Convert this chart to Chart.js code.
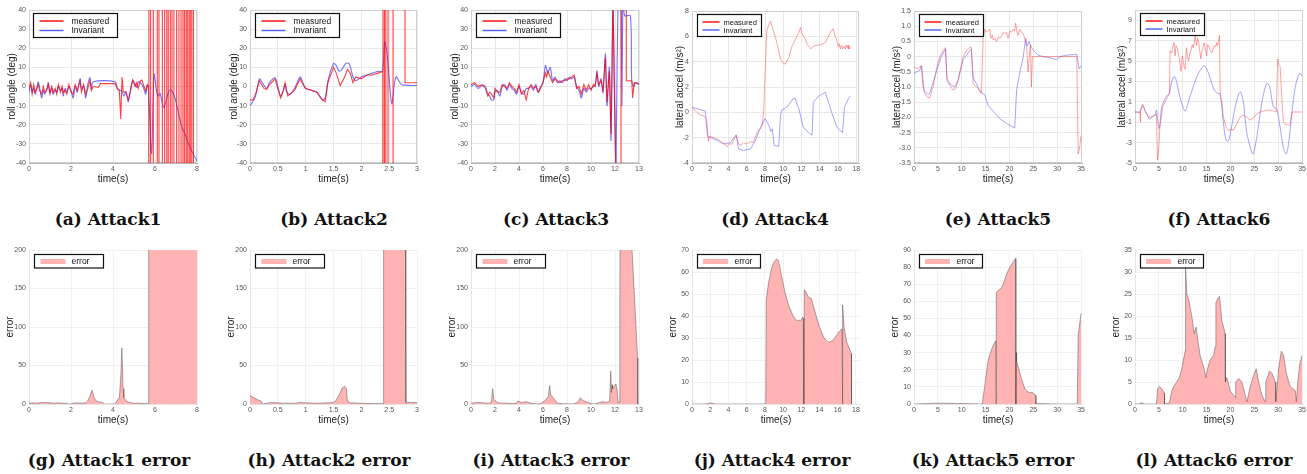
<!DOCTYPE html>
<html><head><meta charset="utf-8">
<script src="https://cdn.jsdelivr.net/npm/chart.js@4.4.1/dist/chart.umd.min.js"></script>
<style>
body{margin:0;background:#fff;width:1307px;height:474px;overflow:hidden;position:relative;font-family:"Liberation Sans",Arial,sans-serif}
canvas{position:absolute}
.cap{position:absolute;font-family:"DejaVu Serif",serif;font-weight:bold;font-size:17px;color:#111;white-space:nowrap;transform:translateX(-50%);line-height:1}
</style></head><body>
<script>
// ---------------- DATA ----------------
// (a) Attack1 roll angle
const a_measT = [0,0.08,0.15,0.22,0.3,0.38,0.44,0.5,0.6,0.68,0.75,0.85,0.92,1.0,1.08,1.15,1.25,1.32,1.4,1.5,1.58,1.63,1.72,1.8,1.9,2.0,2.1,2.2,2.3,2.43,2.5,2.6,2.7,2.8,2.9,2.97,3.06,3.3,3.4,4.1,4.2,4.3,4.37,4.43,4.49,4.62,4.73,4.84,4.94,5.05,5.13,5.2,5.3,5.37,5.48,5.56,5.63,5.7,5.705,5.71,5.79,5.79,5.92,5.92,6.11,6.11,6.19,6.19,6.35,6.35,6.46,6.46,6.56,6.56,6.63,6.63,6.73,6.73,6.81,6.81,6.9,6.9,7.03,7.03,7.14,7.14,7.24,7.24,7.33,7.33,7.4,7.4,7.48,7.48,7.54,7.54,7.62,7.62,7.68,7.68,7.75,7.75,7.83,7.83,8.0];
const a_measV = [-1,2,-4,1,-3,-1,1,-2,-4,0,-3,-2,1,-4,0,-3,-1,-4,1,-3,0,-3,-2,-4,1,-3,-4,1,-2,3,-3,1,-4,-1,3,-2,0,-0.5,1.5,1.5,-1,-2,-17,5,-2.5,-3.5,-7,-2,3.5,0,2,-1,3,3.4,0,-2.5,1,-0.5,-300,300,300,-300,-300,300,300,-300,-300,300,300,-300,-300,300,300,-300,-300,300,300,-300,-300,300,300,-300,-300,300,300,-300,-300,300,300,-300,-300,300,300,-300,-300,300,300,-300,-300,300,300,-300,-300,300,300];
const a_invT = [0,0.08,0.15,0.22,0.3,0.38,0.44,0.5,0.6,0.68,0.75,0.85,0.92,1.0,1.08,1.15,1.25,1.32,1.4,1.5,1.58,1.63,1.72,1.8,1.9,2.0,2.1,2.2,2.3,2.43,2.5,2.6,2.7,2.8,2.9,2.97,3.06,4.1,4.2,4.3,4.41,4.52,4.62,4.73,4.84,4.94,5.05,5.13,5.2,5.37,5.48,5.56,5.63,5.68,5.84,5.95,6.08,6.16,6.24,6.35,6.43,6.56,6.68,6.79,6.95,7.1,7.27,7.43,7.6,7.76,8.0];
const a_invV = [-3,1,-3,-1,-4,0,2.5,0,-6,-2,-4,-1,2,-3,-1,-4,-2,-3,0,-2,-1,-5,-1,-3,0,-2,-6,0,-3,4,-1,0,-6,1,4.6,-1,2.5,2.5,-1,-2,-2,-5,-2.5,-8,-1,3,1.5,-0.5,2.5,1,-1.5,-4,0.5,-0.5,-35,6.5,-2.7,-5,-3.5,-9,-11,-6,-2,-2,-6,-13,-21,-25,-30,-34,-39];
// (b) Attack2 roll angle
const b_measT = [0,0.05,0.1,0.17,0.25,0.3,0.35,0.45,0.55,0.6,0.63,0.68,0.72,0.8,0.9,0.95,1.0,1.1,1.2,1.3,1.35,1.4,1.5,1.55,1.62,1.7,1.75,1.8,1.85,1.9,2.0,2.1,2.2,2.3,2.385,2.387,2.39,2.415,2.415,2.44,2.44,2.48,2.48,2.57,2.57,2.785,2.785,3.0];
const b_measV = [-7,-7,-4,3,-1,-1.5,1,4,-6,-2,2,-5,-4,-2,4,1,-1,-2,-3,-7,-8,2,10,7,0.5,5,9,7,2,5,4,6,6,7,8,-300,300,300,-300,-300,300,300,-300,-300,300,300,2,2];
const b_invT = [0,0.05,0.1,0.17,0.22,0.3,0.35,0.45,0.5,0.55,0.6,0.63,0.66,0.72,0.8,0.9,0.95,1.0,1.1,1.2,1.3,1.35,1.4,1.5,1.55,1.6,1.65,1.72,1.78,1.85,1.9,2.0,2.1,2.2,2.3,2.38,2.42,2.47,2.52,2.55,2.62,2.72,2.8,2.9,3.0];
const b_invV = [-10,-8,-5,4,2,-1,2,4.5,0,-5,-2,1,-3,-4,-1,5,2,-1,-2,-3,-7,-6,3,12,11,8,9,12,12,5,3,5,6,7,8,8,23.5,15,-3,-9,5,1,0.7,0.5,0.5];
// (c) Attack3 roll angle
const c_measT = [0,0.3,0.6,0.9,1.2,1.4,1.55,1.7,1.9,2.0,2.2,2.4,2.6,2.8,3.0,3.2,3.4,3.6,3.8,4.0,4.2,4.4,4.6,4.8,5.0,5.2,5.4,5.6,5.8,6.0,6.2,6.3,6.4,6.6,6.8,7.0,7.2,7.4,7.6,7.8,8.0,8.2,8.4,8.6,8.8,9.0,9.2,9.4,9.6,9.8,10.0,10.2,10.35,10.5,10.64,10.83,11.0,11.2,11.33,11.53,11.67,11.83,11.94,12.08,12.1,12.5,12.5,12.94,12.94,13.4,13.47,13.6,14.0];
const c_measV = [1,2,0,1,-1,-5,-3,-4,-6,-1,-3,-3,1,0,-1,2,0,-1,-3,1,-4,-2,-7,-1,1,-1,0,-3,-1,2,7,5,8,5,2,4,3,2,3,3,4,4,5,6,-1,0,-4,1,-2,1,-2,1,0,7,1,3,-2,15,-8,8,-25,45,5,-45,-300,-300,300,300,3,3,-6,2,1.5];
const c_invT = [0,0.3,0.6,0.9,1.2,1.4,1.55,1.7,1.9,2.0,2.2,2.4,2.6,2.8,3.0,3.2,3.4,3.6,3.8,4.0,4.2,4.4,4.6,4.8,5.0,5.2,5.4,5.6,5.8,6.0,6.2,6.3,6.4,6.6,6.8,7.0,7.2,7.4,7.6,7.8,8.0,8.2,8.4,8.6,8.8,9.0,9.2,9.4,9.6,9.8,10.0,10.2,10.35,10.5,10.64,10.83,11.0,11.2,11.33,11.53,11.67,11.83,11.94,12.08,12.25,12.4,12.5,12.58,12.65,12.72,12.8,13.28,13.39,13.56,13.7,14.0];
const c_invV = [0,1,-1,0.5,0,-4,-5,-7,-7,-3,-2,-5,0,1,-2,1,-1,-2,-4,0,-3,-4,-1,-1,0,-2,1,-3,0,2,11,9,7,10,3,5,2,3,2,4,3,5,4,5,0,-2,-6,-1,-3,-1,-1,0,1,8,0,4,-3,17,-10,10,-28,45,0,-45,45,45,45,-10,45,45,37,37,3,0,2,1];
// (d) Attack4 lateral accel
const d_measT = [0,0.55,0.9,1.3,1.6,1.8,1.9,2.0,2.4,2.7,3.0,3.3,3.6,3.8,4.1,4.4,4.7,4.85,5.1,5.4,5.65,6.0,6.4,6.7,6.9,7.2,7.5,7.7,7.85,8.0,8.2,8.6,8.9,9.3,9.7,10.0,10.2,10.6,10.95,11.2,11.5,11.7,11.9,12.05,12.4,12.6,12.8,13.0,13.1,13.3,13.6,14.05,14.3,14.6,14.9,15.15,15.45,15.7,15.9,16.05,16.15,16.25,16.4,16.5,16.65,16.8,16.9,17.0,17.1,17.2,17.35];
const d_measV = [0.4,0,-0.2,-0.3,-0.5,-2.3,-1.9,-1.9,-2.0,-2.1,-2.2,-2.4,-2.5,-2.7,-2.5,-2.5,-2.0,-1.8,-2.5,-2.6,-2.4,-2.5,-2.3,-2.4,-2.0,-1.5,-1.3,-1.0,0,3,6.5,7.2,6.5,5.5,4.2,3.9,3.8,4.3,5.2,5.6,6.0,6.3,6.7,6.2,5.8,5.4,5.2,5.0,5.1,5.2,5.3,5.3,5.4,5.5,5.9,6.3,6.6,6.0,5.6,5.2,5.4,5.0,5.3,5.0,5.2,5.0,5.3,5.1,5.3,5.0,5.1];
const d_invT = [0,1.45,1.7,2.0,2.7,3.5,4.2,4.7,4.85,5.1,5.65,6.4,6.9,7.5,8.0,8.4,8.65,8.8,8.9,9.0,9.5,9.7,9.85,10.4,11.1,11.3,11.7,12.2,12.8,13.15,13.3,13.9,14.4,14.6,15.3,15.9,16.5,16.7,17.15,17.35];
const d_invV = [0.4,0.1,-1.9,-2.0,-2.2,-2.5,-2.4,-1.9,-1.8,-2.9,-3.0,-2.9,-2.3,-1.2,-0.5,-1.0,-1.5,-1.3,-1.9,-2.6,-2.7,-0.2,0.2,0.4,1.1,1.1,0.3,-1.2,-1.6,-1.8,0.8,1.3,1.5,1.6,0,-1.2,-1.6,0.4,1.1,1.3];
// (e) Attack5 lateral accel
const e_measT = [0,0.85,1.5,1.9,2.2,2.9,3.3,4.0,4.7,5.4,6.1,6.6,6.9,7.5,8.2,8.7,9.2,10.3,11,11.7,12,12.4,13.1,13.8,14.1,14.5,14.8,15.2,15.5,15.9,16.1,16.4,16.6,17.0,17.3,17.7,18,18.4,18.7,19.1,19.4,19.7,20.1,20.4,20.8,21.1,21.3,21.6,21.8,22.2,22.5,22.9,23.2,23.6,23.9,24.1,24.4,24.6,24.8,34.1,34.4,34.7,35];
const e_measV = [-0.35,-0.4,-0.3,-1.0,-1.2,-1.35,-1.35,-1.0,-0.4,0,0.2,0.3,-0.8,-0.95,-1.1,-1.05,-0.8,0,0.2,0.3,0.3,-0.9,-1.0,-1.1,-1.2,0.6,0.9,0.8,0.85,0.9,0.6,0.7,0.55,0.6,0.5,0.65,0.6,0.7,0.8,0.75,0.8,0.6,0.85,0.8,0.9,0.85,1.1,0.8,0.7,0.9,0.8,0.75,0.6,0.3,-0.5,-0.1,0.4,-1.0,0,0,-3.2,-3.0,-2.6];
const e_invT = [0,1.2,1.6,2.1,2.9,3.3,4.7,5.7,6.6,6.9,7.5,8.5,9.2,10.3,11.7,12,12.4,13.1,13.8,14.8,15.5,16.6,18,19.4,21.1,21.5,22.2,22.9,23.4,23.7,24.1,24.6,25.3,26,27.1,28.8,29.9,30.6,32,34.1,34.6,35];
const e_invV = [-0.55,-0.45,-0.3,-1.1,-1.25,-1.2,-0.5,0,0.25,-0.7,-0.9,-1.0,-0.8,-0.1,0.2,0.25,-0.7,-0.9,-1.15,-1.25,-1.6,-1.8,-2.05,-2.2,-2.35,-1.1,-0.5,0,0.6,0.35,0.5,0.3,0.15,0.05,0,-0.05,-0.1,0,0.05,0.07,-0.4,-0.3];
// (f) Attack6 lateral accel
const f_measT = [0,1.05,1.1,1.2,1.4,1.6,2.1,2.8,3.5,4.2,4.5,4.7,5.0,5.2,5.8,6.3,6.85,7.2,7.35,7.7,7.9,8.2,8.4,8.6,8.9,9.1,9.3,9.65,9.9,10.1,10.3,10.5,10.8,11.0,11.2,11.5,11.7,12.0,12.2,12.4,12.6,12.9,13.1,13.3,13.5,13.8,14.0,14.2,14.5,14.7,15.0,15.2,15.4,15.8,16.1,16.4,16.6,16.9,17.1,17.3,17.5,17.7,17.85,18.2,18.5,19.1,19.6,20.3,20.6,21.3,22,22.7,23.4,24.1,24.8,25.5,26.2,26.9,28,29,29.6,29.9,30.1,30.4,30.8,31.1,31.5,32.2,32.5,32.9,33.2,35];
const f_measV = [0,0,-1,0.2,0.5,0.8,0.2,-0.5,-0.5,-0.3,-0.2,-4.7,-3.5,-1.5,0.5,1.0,1.5,1.8,6,5.8,6.4,6.8,5.5,6.5,6.2,5.6,5.2,4.0,5.5,5.0,4.4,4.2,6.3,5.4,5.0,5.8,6.0,6.6,6.3,6.8,7.5,6.5,7.2,7.0,6.2,5.2,6.0,6.2,6.8,6.3,5.5,6.6,6.5,6.0,5.8,6.2,6.5,6.4,6.8,6.5,7.0,7.5,1.5,1.0,-0.5,-1.5,-1.8,-1.7,-1.8,-1.2,-0.5,-0.3,-0.5,-0.8,-0.6,-0.2,0,0.1,0.2,0.1,0,5.2,4.6,4.5,1,-1.0,-1.2,-1.3,-1.2,0,0,0];
const f_invT = [0,1.05,1.6,2.1,2.8,3.1,3.7,4.2,4.5,4.75,5.1,5.6,6.3,6.85,7.2,7.7,8.25,8.7,9.4,10.1,10.5,11.2,12.2,13.3,14.3,14.7,15.4,16.1,16.8,17.5,17.85,18.2,18.5,19.1,19.6,20.1,21,22,22.7,23.4,24.5,24.8,25.5,26.6,27.6,28.2,29,29.7,30.4,31.1,31.7,32.2,32.9,33.6,34.5,35];
const f_invV = [0,0,0.6,0.1,-0.5,-0.7,-0.4,-0.3,0.2,-0.8,-1.6,0.5,1.3,1.7,1.8,3.0,3.5,3.0,1.5,0.4,0.1,1.0,2.5,3.8,4.5,4.5,3.8,2.8,2.0,1.8,1.8,0.5,-1.0,-2.8,-2.8,-1.8,0.5,2.0,1.0,-2.0,-4.0,-4.1,-2.5,1.0,2.8,2.5,0.5,0.3,-1.5,-3.5,-4.1,-3.0,0,2.5,3.8,3.5];
// (g)-(l) errors
const g_t = [0,0.2,0.4,0.6,0.8,1.0,1.2,1.4,1.6,1.8,1.9,2.0,2.1,2.3,2.5,2.7,2.8,2.9,3.0,3.05,3.1,3.2,3.3,3.5,3.6,4.1,4.2,4.3,4.38,4.42,4.45,4.48,4.52,4.6,4.7,4.8,5.0,5.3,5.5,5.69,5.7,8.0];
const g_v = [1,1.5,1,2,2,1.5,1,1.5,1,1,0,0,1,1.5,1,1.5,4,10,18,14,8,4,3,2,0,0,5,7,40,73,50,20,8,5,3,2,1,1,0.5,0.5,300,300];
const h_t = [0,0.05,0.1,0.15,0.2,0.22,0.3,0.4,0.5,0.6,0.8,0.9,1.0,1.2,1.4,1.5,1.55,1.6,1.65,1.7,1.73,1.75,1.8,2.0,2.2,2.39,2.4,2.79,2.8,3.0];
const h_v = [11,9,7,5,4,0,1,2,1.5,1,1,2,1.5,1,1.5,2,5,12,20,23,20,4,1.5,1,0.5,0.5,300,300,2,2];
const i_t = [0,0.5,1.0,1.5,1.7,1.8,1.9,2.2,2.5,3.0,3.5,3.8,3.9,4.2,4.6,4.8,5.0,5.5,5.8,6.2,6.45,6.55,6.65,7.0,7.2,7.6,8.5,8.9,9.1,9.4,9.8,10.0,10.3,10.7,11.0,11.3,11.55,11.65,11.7,11.75,11.8,11.9,12.08,12.2,12.25,12.35,12.4,12.45,13.35,13.42,13.88,13.9,14.0];
const i_v = [1,2,1.5,1,2,20,6,2,1,1,0.5,1,4,2,3,2,1,0,0.5,5,10,24,12,5,1,0.5,0,2,8,4,2,0.5,0,2,3,2,4,43,15,25,20,22,26,15,2,2,135,300,300,200,60,0,0];
const j_t = [0,1.5,1.8,2.0,2.2,2.5,4,6,8.0,8.1,8.15,8.4,8.75,9.0,9.3,9.5,9.85,10.2,10.6,11.1,11.5,11.7,11.95,12.15,12.22,12.28,12.33,12.5,12.8,13.1,13.5,14.0,14.5,15.0,15.5,16.0,16.4,16.48,16.52,16.56,16.7,17.0,17.3,17.5,17.52];
const j_v = [0,0,0.3,0.5,0.3,0,0,0,0,0.5,47,55,62,64.5,66,65,58,51,45,40,38,38,38,39.5,39,0,52,51,48.5,48,42,35,30,28,29,32,34,34,0,45,35,28,25,23,0];
const k_t = [0,3,5,10,14.2,14.3,14.8,15.5,16.0,16.7,17.15,17.2,17.25,17.5,18.3,18.7,19.4,20.1,20.8,21.3,21.35,21.4,21.5,21.8,22.5,23.2,23.9,25.0,25.5,25.55,26,30,34.2,34.4,35];
const k_v = [0,0.3,0.5,0.3,0,0,10,25,30,35,37,0,65,66,68,70,76,80,83,85,0,30,25,22,15,9,7,6.5,5,0,0.3,0,0,40,53];
const l_t = [0,1.0,1.2,1.5,2,4.5,4.55,4.75,5.1,5.6,6.15,6.2,7.2,7.35,7.7,8.4,8.75,9.3,9.8,10.15,10.5,10.6,10.85,11.2,11.9,12.4,12.8,13.1,13.65,14.5,14.85,15.2,15.75,16.45,16.8,16.95,17.35,17.7,18.2,18.9,18.95,19.25,19.95,20.65,21.0,21.1,21.7,22.4,23.1,23.45,24.15,24.85,25.4,25.9,26.6,27.3,27.4,28.2,28.7,29.4,29.5,30.1,30.65,31.15,31.7,32.5,33.6,33.8,34.1,34.5,35];
const l_v = [0,0,0.3,0.2,0,0,0,3.5,4,3.5,2.5,0,0.2,1,3,4.5,5,6,8,10,12,31,25,24,20,16,17.5,15,11,8,6,8,10,11,13,23,24,24.5,19,16,5,6,3,2,1.5,5,5.8,5,2,0.5,4,6.5,8,5,2,0.5,5,7.5,7,5,0.5,8,12,11,7,4,3,0.5,5,9,11];

// ticks
const rollTicks = [-40,-30,-20,-10,0,10,20,30,40];
const a_xTicks = [0,2,4,6,8];
const b_xTicks = [0,0.5,1,1.5,2,2.5,3];
const c_xTicks = [0,2,4,6,8,10,12,14];
const c_xLabels = ['0','2','4','6','8','10','12','13'];
const d_xTicks = [0,2,4,6,8,10,12,14,16,18];
const d_yTicks = [-4,-2,0,2,4,6,8];
const e_xTicks = [0,5,10,15,20,25,30,35];
const e_yTicks = [-3.5,-3,-2.5,-2,-1.5,-1,-0.5,0,0.5,1,1.5];
const e_yLabels = ['-3.5','-3.0','-2.5','-2.0','-1.5','-1.0','-0.5','0','0.5','1.0','1.5'];
const f_yTicks = [-5,-3,-1,1,3,5,7,9];
const err200Ticks = [0,50,100,150,200];
const j_yTicks = [0,10,20,30,40,50,60,70];
const k_yTicks = [0,10,20,30,40,50,60,70,80,90];
const l_yTicks = [0,5,10,15,20,25,30,35];

const captions = ['(a) Attack1','(b) Attack2','(c) Attack3','(d) Attack4','(e) Attack5','(f) Attack6',
  '(g) Attack1 error','(h) Attack2 error','(i) Attack3 error','(j) Attack4 error','(k) Attack5 error','(l) Attack6 error'];

// ---------------- RENDER ----------------
Chart.defaults.font.family = '"Liberation Sans", Arial, sans-serif';
const pts = (t, v) => t.map((x, i) => ({x, y: v[i]}));

const boxLegend = {
  id: 'boxLegend',
  afterDatasetsDraw(chart, args, o) {
    if (!o || !o.w) return;
    const ctx = chart.ctx, ca = chart.chartArea;
    const x = Math.round(ca.left + o.dx) + 0.5, y = Math.round(ca.top + o.dy) + 0.5;
    ctx.save();
    ctx.fillStyle = '#fff';
    ctx.fillRect(x, y, o.w, o.h);
    ctx.strokeStyle = '#111'; ctx.lineWidth = 1.2;
    ctx.strokeRect(x, y, o.w, o.h);
    ctx.font = o.size + 'px "Liberation Sans", Arial, sans-serif';
    ctx.textBaseline = 'middle';
    chart.data.datasets.forEach((ds, i) => {
      const cy = y + o.rows[i];
      if (o.swatch) {
        ctx.fillStyle = ds.backgroundColor;
        ctx.fillRect(x + o.sx, cy - o.sh / 2, o.sl, o.sh);
      } else {
        ctx.strokeStyle = ds.legendColor; ctx.lineWidth = 1.4;
        ctx.beginPath(); ctx.moveTo(x + o.sx, cy); ctx.lineTo(x + o.sx + o.sl, cy); ctx.stroke();
      }
      ctx.fillStyle = '#111';
      ctx.fillText(ds.label, x + o.tx, cy + 0.5);
    });
    ctx.restore();
  }
};
const frame = {
  id: 'frame',
  beforeDatasetsDraw(chart, args, o) {
    if (!o || !o.color) return;
    const ctx = chart.ctx, ca = chart.chartArea;
    ctx.save(); ctx.strokeStyle = o.color; ctx.lineWidth = 1;
    ctx.strokeRect(ca.left + 0.5, ca.top + 0.5, ca.right - ca.left - 1, ca.bottom - ca.top - 1);
    ctx.restore();
  }
};

const legBig = {dx:4, dy:3, w:84, h:24, size:8.5, sx:6, sl:24, tx:38, rows:[7.5,17]};
const legSmall = {dx:5, dy:3, w:64, h:22, size:7.5, sx:5, sl:17, tx:26, rows:[7.5,15.5]};
const legErr = {dx:4.5, dy:4, w:69, h:13.5, size:8.5, swatch:true, sx:6, sl:25, sh:5, tx:37, rows:[7]};
const legErrS = {dx:4.5, dy:4, w:63, h:13.5, size:8.5, swatch:true, sx:5.5, sl:25, sh:5, tx:37, rows:[7]};

const RED = 'rgba(255,0,0,0.75)', BLUE = 'rgba(40,40,255,0.65)';
const RED2 = 'rgba(255,70,70,0.5)', BLUE2 = 'rgba(90,90,255,0.55)';
const lineSet = (label, t, v, color, legendColor, width, tension) => ({
  label, data: pts(t, v), borderColor: color, legendColor, borderWidth: width,
  pointRadius: 0, tension: tension || 0, fill: false
});
const errSet = (t, v) => ({
  label: 'error', data: pts(t, v), borderColor: 'rgba(70,70,70,0.75)', borderWidth: 0.6,
  backgroundColor: '#ffb3b3', fill: 'origin', pointRadius: 0, tension: 0
});

const specs = [
  {L:29, R:197, T:10, B:163, yOff:17, yTitle:'roll angle (deg)', xMin:0, xMax:8, yMin:-40, yMax:40, xt:a_xTicks, yt:rollTicks, leg:legBig, row:1,
   ds:[lineSet('measured', a_measT, a_measV, RED, '#ff0000', 1.1), lineSet('Invariant', a_invT, a_invV, BLUE, '#4a5cff', 1.1, 0.3)]},
  {L:250, R:417, T:10, B:163, yOff:16, yTitle:'roll angle (deg)', xMin:0, xMax:3, yMin:-40, yMax:40, xt:b_xTicks, yt:rollTicks, leg:Object.assign({}, legBig, {dx:5}), row:1,
   ds:[lineSet('measured', b_measT, b_measV, RED, '#ff0000', 1.1), lineSet('Invariant', b_invT, b_invV, BLUE, '#4a5cff', 1.1, 0.3)]},
  {L:471, R:639, T:10, B:163, yOff:16, yTitle:'roll angle (deg)', xMin:0, xMax:14, yMin:-40, yMax:40, xt:c_xTicks, xl:c_xLabels, yt:rollTicks, leg:Object.assign({}, legBig, {dx:5}), row:1,
   ds:[lineSet('measured', c_measT, c_measV, RED, '#ff0000', 1.1), lineSet('Invariant', c_invT, c_invV, BLUE, '#4a5cff', 1.1, 0.3)]},
  {L:692, R:859, T:11, B:163, yOff:12, yTitle:'lateral accel (m/s²)', xMin:0, xMax:18.3, yMin:-4, yMax:8, xt:d_xTicks, yt:d_yTicks, leg:legSmall, row:1,
   ds:[lineSet('measured', d_measT, d_measV, RED2, '#ff0000', 1), lineSet('Invariant', d_invT, d_invV, BLUE2, '#4a5cff', 1)]},
  {L:914, R:1082, T:11, B:163, yOff:17, yTitle:'lateral accel (m/s²)', xMin:0, xMax:35.2, yMin:-3.5, yMax:1.5, xt:e_xTicks, yt:e_yTicks, yl:e_yLabels, leg:legSmall, row:1,
   ds:[lineSet('measured', e_measT, e_measV, RED2, '#ff0000', 1), lineSet('Invariant', e_invT, e_invV, BLUE2, '#4a5cff', 1)]},
  {L:1135, R:1303, T:10, B:163, yOff:13, yTitle:'lateral accel (m/s²)', xMin:0, xMax:35.2, yMin:-5, yMax:10, xt:e_xTicks, yt:f_yTicks, leg:legSmall, row:1,
   ds:[lineSet('measured', f_measT, f_measV, RED2, '#ff0000', 1), lineSet('Invariant', f_invT, f_invV, BLUE2, '#4a5cff', 1, 0.3)]},
  {L:29, R:197, T:250, B:404, yOff:19, yTitle:'error', xMin:0, xMax:8, yMin:0, yMax:200, xt:a_xTicks, yt:err200Ticks, leg:legErr, row:2, ds:[errSet(g_t, g_v)]},
  {L:250, R:417, T:250, B:404, yOff:19, yTitle:'error', xMin:0, xMax:3, yMin:0, yMax:200, xt:b_xTicks, yt:err200Ticks, leg:legErr, row:2, ds:[errSet(h_t, h_v)]},
  {L:471, R:639, T:250, B:404, yOff:19, yTitle:'error', xMin:0, xMax:14, yMin:0, yMax:200, xt:c_xTicks, xl:c_xLabels, yt:err200Ticks, leg:legErr, row:2, ds:[errSet(i_t, i_v)]},
  {L:692, R:860, T:250, B:404, yOff:19, yTitle:'error', xMin:0, xMax:18.45, yMin:0, yMax:70, xt:d_xTicks, yt:j_yTicks, leg:legErrS, row:2, ds:[errSet(j_t, j_v)]},
  {L:914, R:1082, T:250, B:404, yOff:19, yTitle:'error', xMin:0, xMax:35.2, yMin:0, yMax:90, xt:e_xTicks, yt:k_yTicks, leg:legErrS, row:2, ds:[errSet(k_t, k_v)]},
  {L:1135, R:1303, T:250, B:404, yOff:19, yTitle:'error', xMin:0, xMax:35.2, yMin:0, yMax:35, xt:e_xTicks, yt:l_yTicks, leg:legErrS, row:2, ds:[errSet(l_t, l_v)]}
];
const capPos = [[108,210.5],[334,210.5],[556,210.5],[775,210.5],[998,210.5],[1219,210.5],
                [109,452],[329,452],[551,452],[772,452],[993,452],[1214,452]];

specs.forEach((s, idx) => {
  const yW = 26, padT = 8, padR = 8, xH = 24;
  const w = yW + (s.R - s.L) + padR, h = padT + (s.B - s.T) + xH;
  const cv = document.createElement('canvas');
  cv.width = w; cv.height = h;
  cv.style.left = (s.L - yW) + 'px'; cv.style.top = (s.T - padT) + 'px';
  cv.style.width = w + 'px'; cv.style.height = h + 'px';
  document.body.appendChild(cv);
  const gridC = s.row === 1 ? '#e8e8e8' : '#f0f0f0';
  const borderC = s.row === 1 ? '#b5b5b5' : '#e4e4e4';
  new Chart(cv, {
    type: 'line',
    data: {datasets: s.ds},
    plugins: [frame, boxLegend],
    options: {
      responsive: false, animation: false, events: [],
      layout: {padding: {top: padT, right: padR, left: 0, bottom: 0}},
      plugins: {legend: {display: false}, tooltip: {enabled: false},
        boxLegend: s.leg, frame: {color: s.row === 1 ? '#d0d0d0' : null}},
      scales: {
        x: {type: 'linear', min: s.xMin, max: s.xMax,
          afterBuildTicks: sc => { sc.ticks = s.xt.map(v => ({value: v})); },
          afterFit: sc => { sc.height = xH; },
          ticks: {callback: (v, i) => s.xl ? s.xl[i] : String(s.xt[i]), font: {size: 7}, color: '#555', padding: 2, maxRotation: 0, autoSkip: false},
          grid: {color: gridC, drawTicks: false},
          border: {color: borderC},
          title: {display: true, text: 'time(s)', font: {size: 10}, color: '#222', padding: {top: 0, bottom: 2}}
        },
        y: {type: 'linear', min: s.yMin, max: s.yMax,
          afterBuildTicks: sc => { sc.ticks = s.yt.map(v => ({value: v})); },
          afterFit: sc => { sc.width = yW; },
          ticks: {callback: (v, i) => s.yl ? s.yl[i] : String(s.yt[i]), font: {size: 7}, color: '#555', padding: 3, autoSkip: false},
          grid: {color: gridC, drawTicks: false},
          border: {color: borderC},
          title: {display: true, text: s.yTitle, font: {size: 10}, color: '#222', padding: {top: 20 - s.yOff, bottom: 0}}
        }
      }
    }
  });
  const d = document.createElement('div');
  d.className = 'cap'; d.textContent = captions[idx];
  d.style.left = capPos[idx][0] + 'px'; d.style.top = capPos[idx][1] + 'px';
  document.body.appendChild(d);
});
</script>
</body></html>
